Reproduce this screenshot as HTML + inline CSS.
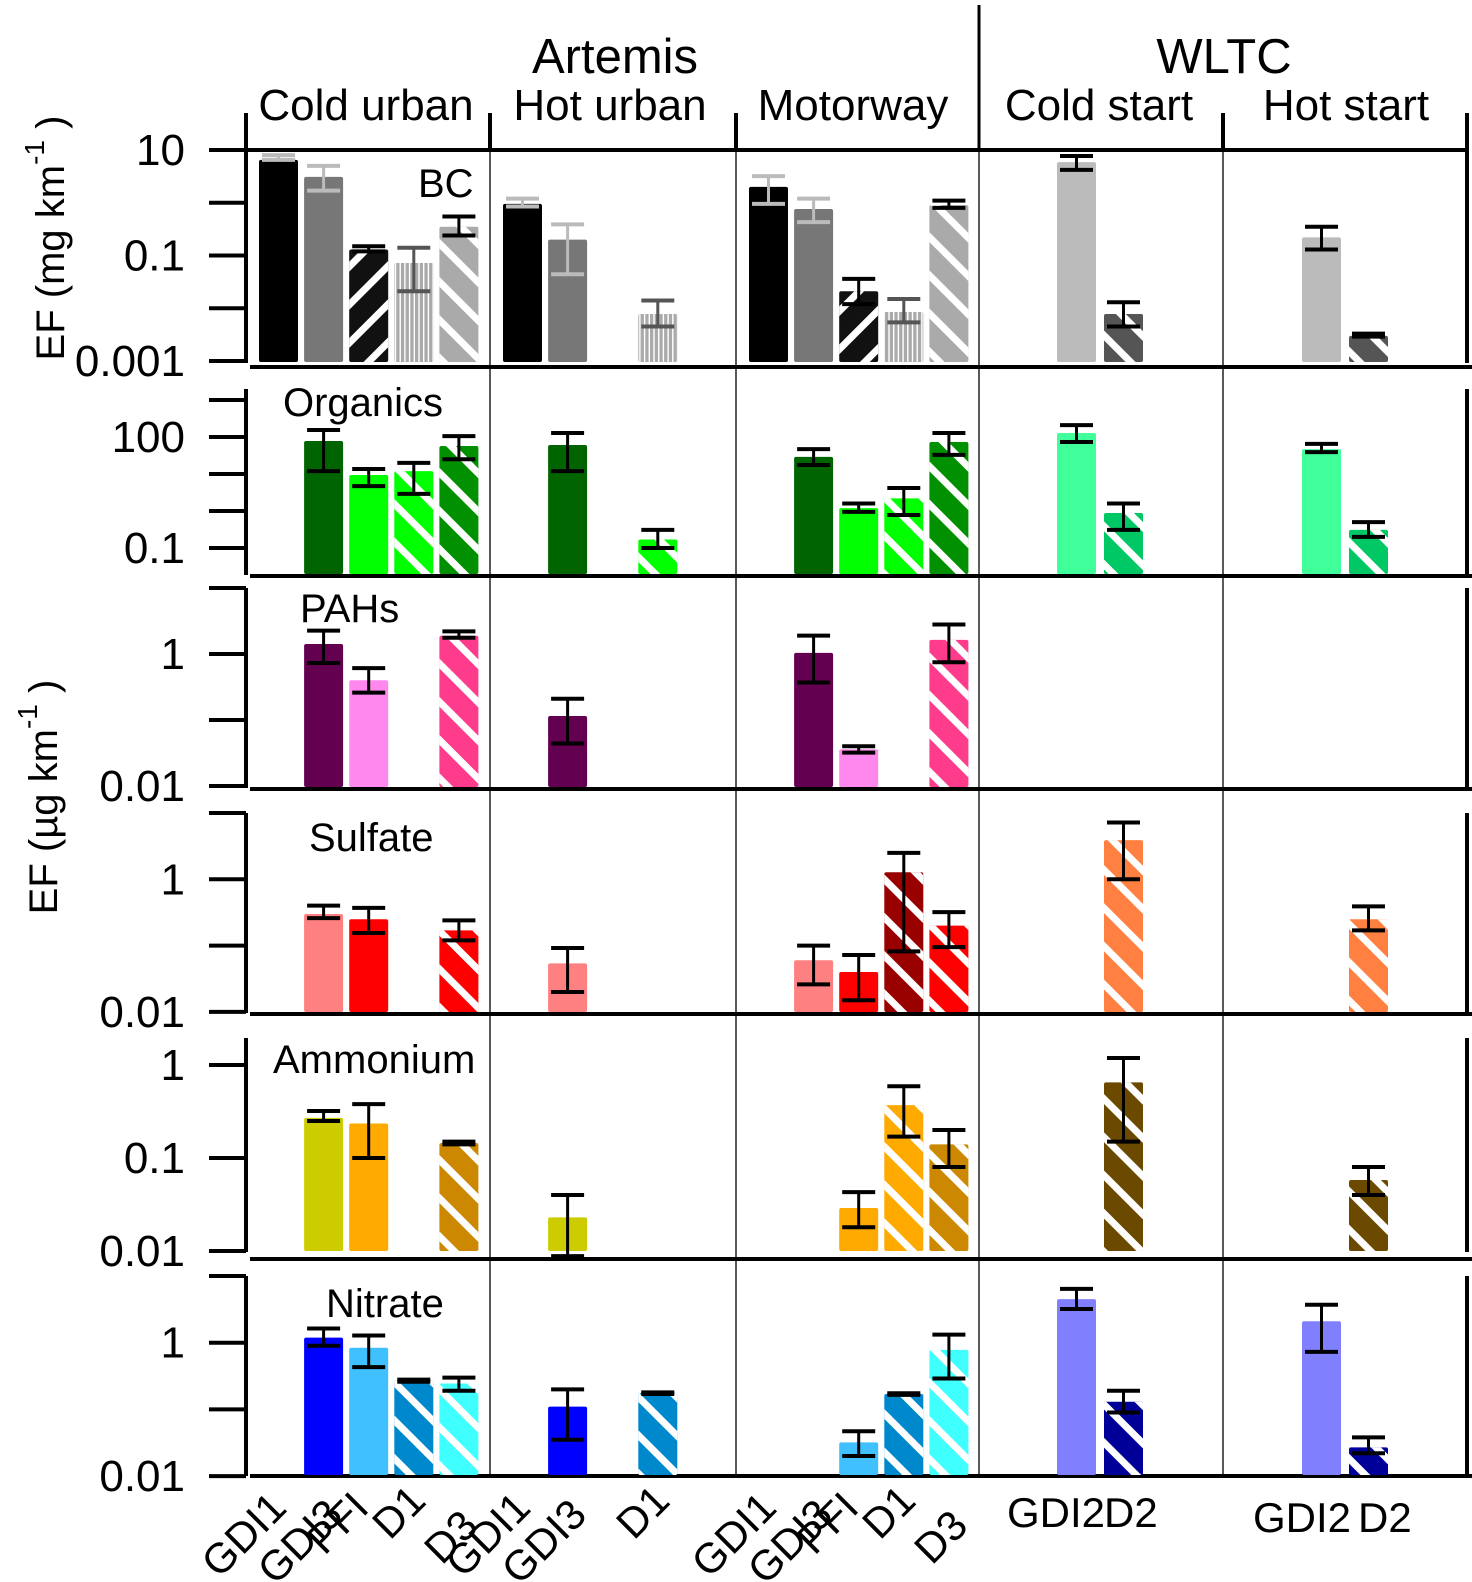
<!DOCTYPE html>
<html><head><meta charset="utf-8"><style>
html,body{margin:0;padding:0;background:#fff;}
svg{display:block;font-family:"Liberation Sans",Arial,sans-serif;}
</style></head><body>
<svg id="chart" width="1472" height="1582" viewBox="0 0 1472 1582" xmlns="http://www.w3.org/2000/svg">
<defs>
<pattern id="pb" patternUnits="userSpaceOnUse" width="27" height="27" patternTransform="rotate(-45)"><rect x="0" y="0" width="7" height="27" fill="#fff"/></pattern>
<pattern id="pf" patternUnits="userSpaceOnUse" width="27" height="27" patternTransform="rotate(45)"><rect x="0" y="0" width="7" height="27" fill="#fff"/></pattern>
<pattern id="pv" patternUnits="userSpaceOnUse" width="4.7" height="10"><rect x="0" y="0" width="1.4" height="10" fill="#fff"/></pattern>
</defs>
<g id="frame"></g>
<g id="bars"></g>
<g id="texts"></g>
</svg>
<script>
// ---- categories ----
const columnNames = ["Cold urban","Hot urban","Motorway","Cold start","Hot start"];
const artemisSlots = ["GDI1","GDI3","PFI","D1","D3"];
const wltcSlots = ["GDI2","D2"];
const panelNames = ["BC","Organics","PAHs","Sulfate","Ammonium","Nitrate"];
// order: CU[GDI1,GDI3,PFI,D1,D3], HU[5], MW[5], CS[GDI2,D2], HS[GDI2,D2]
const bcVal = [6.5,3.1,0.13,0.072,0.35, 0.95,0.2,null,0.0078,null, 2.0,0.76,0.021,0.0085,0.9, 5.9,0.0078, 0.22,0.003];
const bcHi  = [8,5,0.15,0.14,0.55, 1.2,0.39,null,0.014,null, 3.2,1.2,0.036,0.015,1.1, 7.7,0.013, 0.35,0.0033];
const bcLo  = [6.5,1.7,0.12,0.021,0.24, 0.85,0.044,null,0.0045,null, 0.95,0.43,0.012,0.0054,0.8, 4.2,0.0045, 0.13,0.0029];
const orgVal = [null,78,9.4,12,57, null,61,null,0.17,null, null,29,1.2,2.2,73, 128,0.88, 47,0.31];
const orgHi  = [null,155,13.6,20,106, null,128,null,0.31,null, null,47,1.6,4.2,128, 210,1.6, 65,0.5];
const orgLo  = [null,12,4.7,2.9,25, null,12,null,0.1,null, null,17.5,0.95,0.78,33, 73,0.31, 39,0.2];
const pahVal = [null,1.42,0.4,null,1.89, null,0.115,null,null,null, null,1.04,0.036,null,1.64, null,null, null,null];
const pahHi  = [null,2.26,0.61,null,2.2, null,0.21,null,null,null, null,1.9,0.04,null,2.8, null,null, null,null];
const pahLo  = [null,0.73,0.26,null,1.76, null,0.044,null,null,null, null,0.37,0.032,null,0.75, null,null, null,null];
const sulVal = [null,0.3,0.25,null,0.17, null,0.054,null,null,null, null,0.06,0.04,1.28,0.2, null,3.9, null,0.25];
const sulHi  = [null,0.4,0.37,null,0.24, null,0.092,null,null,null, null,0.1,0.072,2.5,0.32, null,7.2, null,0.39];
const sulLo  = [null,0.26,0.155,null,0.12, null,0.02,null,null,null, null,0.026,0.015,0.082,0.095, null,1.0, null,0.17];
const ammVal = [null,0.27,0.235,null,0.145, null,0.023,null,null,null, null,null,0.029,0.37,0.14, null,0.65, null,0.058];
const ammHi  = [null,0.32,0.38,null,0.15, null,0.04,null,null,null, null,null,0.043,0.59,0.2, null,1.19, null,0.08];
const ammLo  = [null,0.25,0.1,null,0.14, null,0.0088,null,null,null, null,null,0.018,0.17,0.08, null,0.15, null,0.04];
const nitVal = [null,1.19,0.84,0.27,0.245, null,0.11,null,0.175,null, null,null,0.032,0.17,0.78, 4.5,0.13, 2.1,0.027];
const nitHi  = [null,1.63,1.28,0.28,0.3, null,0.2,null,0.18,null, null,null,0.047,0.175,1.32, 6.4,0.19, 3.7,0.038];
const nitLo  = [null,0.9,0.43,0.26,0.19, null,0.035,null,0.17,null, null,null,0.02,0.165,0.29, 3.2,0.09, 0.73,0.022];
// tick values / labels
const bcTicks = [10,1,0.1,0.01,0.001], bcTickLabels = ["10","","0.1","","0.001"];
const orgTicks = [1000,100,10,1,0.1], orgTickLabels = ["","100","","","0.1"];
const pahTicks = [10,1,0.1,0.01], pahTickLabels = ["","1","","0.01"];
const sulTicks = [10,1,0.1,0.01], sulTickLabels = ["","1","","0.01"];
const ammTicks = [1,0.1,0.01], ammTickLabels = ["1","0.1","0.01"];
const nitTicks = [10,1,0.1,0.01], nitTickLabels = ["","1","","0.01"];

// ---- styles (not data) ----
const NS="http://www.w3.org/2000/svg";
const colStart=[246,490,736,979,1224];
const RIGHT=1467;
function slotX(i){ if(i<15){const c=Math.floor(i/5),s=i%5;return colStart[c]+32.5+s*45.1;} const c=i<17?3:4, s=(i-15)%2; return colStart[c]+97.5+s*47;}
const fillsA={BC:["#000","#777","#111","#aaa","#aaa"],Organics:["#006400","#006400","#00ff00","#00ff00","#009000"],PAHs:["#640050","#640050","#ff88ee","#ff3c8c","#ff3c8c"],Sulfate:["#ff8080","#ff8080","#ff0000","#990000","#ff0000"],Ammonium:["#cccc00","#cccc00","#ffaa00","#ffaa00","#cc8800"],Nitrate:["#0000ff","#0000ff","#40c0ff","#0088cc","#40ffff"]};
const fillsW={BC:["#bbb","#555"],Organics:["#40ff9a","#00c864"],PAHs:["#ff88ee","#ff3c8c"],Sulfate:["#ff8080","#ff8040"],Ammonium:["#cccc00","#6b4a00"],Nitrate:["#8080ff","#000099"]};
const bcErrCol=["#bbb","#bbb","#000","#555","#000","#bbb","#bbb","#000","#555","#000","#bbb","#bbb","#000","#555","#000","#000","#000","#000","#000"];
const panels=[
 {name:"BC",val:bcVal,hi:bcHi,lo:bcLo,ticks:bcTicks,tl:bcTickLabels,refV:10,refY:150,ppd:52.75,top:150,axTop:113,bot:362,sep:367,lx:418,ly:197},
 {name:"Organics",val:orgVal,hi:orgHi,lo:orgLo,ticks:orgTicks,tl:orgTickLabels,refV:1000,refY:400,ppd:37,top:389,axTop:389,bot:574,sep:576,lx:283,ly:416},
 {name:"PAHs",val:pahVal,hi:pahHi,lo:pahLo,ticks:pahTicks,tl:pahTickLabels,refV:10,refY:588,ppd:66,top:588,axTop:588,bot:787,sep:789,lx:300,ly:622},
 {name:"Sulfate",val:sulVal,hi:sulHi,lo:sulLo,ticks:sulTicks,tl:sulTickLabels,refV:10,refY:813,ppd:66.3,top:813,axTop:813,bot:1012,sep:1014,lx:309,ly:851},
 {name:"Ammonium",val:ammVal,hi:ammHi,lo:ammLo,ticks:ammTicks,tl:ammTickLabels,refV:1,refY:1065,ppd:93,top:1038,axTop:1038,bot:1251,sep:1259,lx:273,ly:1073},
 {name:"Nitrate",val:nitVal,hi:nitHi,lo:nitLo,ticks:nitTicks,tl:nitTickLabels,refV:10,refY:1276,ppd:66.7,top:1276,axTop:1276,bot:1475,sep:1476,lx:326,ly:1317}
];
const frame=document.getElementById('frame'),barsG=document.getElementById('bars'),texts=document.getElementById('texts');
function mk(tag,attrs,parent){const e=document.createElementNS(NS,tag);for(const k in attrs)e.setAttribute(k,attrs[k]);parent.appendChild(e);return e;}
function line(x1,y1,x2,y2,w,parent,col){return mk('line',{x1,y1,x2,y2,stroke:col||'#000','stroke-width':w},parent);}
function yOf(p,v){return p.refY-(Math.log10(v)-Math.log10(p.refV))*p.ppd;}

panels.forEach((p,pi)=>{
  const g=mk('g',{},frame);
  
  
  line(246,p.axTop,246,p.bot+1,4,g);
  p.ticks.forEach((t,ti)=>{
    const y=yOf(p,t);
    const tk=line(209,y,246,y,4,g);
    
    
    if(p.tl[ti]){
      const tx=mk('text',{x:185,y:y+15,'text-anchor':'end','font-size':44,fill:'#000'},texts);
      tx.textContent=p.tl[ti];
      
      
    }
  });
  line(RIGHT,p.top,RIGHT,p.bot+1,4,g);
  line(250,p.sep,1472,p.sep,4,g);
  const lb=mk('text',{x:p.lx,y:p.ly,'font-size':40,fill:'#000'},texts);
  lb.textContent=p.name;
  
  
  // bars
  p.val.forEach((v,i)=>{
    if(v==null)return;
    const cx=slotX(i), x=cx-19.5, w=39, yt=yOf(p,v), h=p.bot-yt;
    let fill, pat=null;
    if(i<15){const s=i%5; fill=fillsA[p.name][s]; if(s>=3)pat='pb'; if(p.name==='BC'&&s===2)pat='pf'; if(p.name==='BC'&&s===3)pat='pv';}
    else {const s=(i-15)%2; fill=fillsW[p.name][s]; if(s===1)pat='pb';}
    const r=mk('rect',{x,y:yt,width:w,height:h,fill,rx:2},barsG);
    
    
    if(pat) mk('rect',{x,y:yt,width:w,height:h,fill:'url(#'+pat+')',rx:2},barsG);
    const hi=p.hi[i],lo=p.lo[i];
    if(hi!=null&&lo!=null){
      const col=p.name==='BC'?bcErrCol[i]:'#000';
      const eg=mk('g',{},barsG);
      
      
      const yh=yOf(p,hi),yl=yOf(p,lo);
      line(cx,yh,cx,yl,3,eg,col);
      line(cx-16.5,yh,cx+16.5,yh,4,eg,col);
      line(cx-16.5,yl,cx+16.5,yl,4,eg,col);
    }
  });
});
// top frame
line(209,150,RIGHT,150,4,frame);
[490,736,1223].forEach(x=>line(x,150,x,1476,1.3,frame));
line(979,150,979,1476,1.3,frame);
line(979,5,979,151,3,frame);
[246,490,736,1223,RIGHT].forEach(x=>line(x,113,x,151,4,frame));

// headers
const hdrs=[["Artemis",615,73,49],["WLTC",1224,73,49],["Cold urban",366,120,44],["Hot urban",610,120,44],["Motorway",853,120,44],["Cold start",1099,120,44],["Hot start",1346,120,44]];
hdrs.forEach(h=>{const t=mk('text',{x:h[1],y:h[2],'text-anchor':'middle','font-size':h[3],fill:'#000'},texts);t.textContent=h[0];
  
  });

// x labels
const lblDx=[10,21,2,14,21], lblY=[1510,1517,1510,1503,1528];
const present=[[0,1,2,3,4],[0,1,3],[0,1,2,3,4]];
present.forEach((slots,c)=>slots.forEach(s=>{
  const cx=slotX(c*5+s), ex=cx+lblDx[s], ey=lblY[s];
  const t=mk('text',{x:0,y:0,'text-anchor':'end','font-size':42,fill:'#000',transform:'translate('+ex+','+ey+') rotate(-45)'},texts);
  t.textContent=artemisSlots[s];
  
  
}));
[[1007,1527,"GDI2"],[1104,1527,"D2"],[1253,1532,"GDI2"],[1358,1532,"D2"]].forEach(a=>{
  const t=mk('text',{x:a[0],y:a[1],'font-size':42,fill:'#000'},texts);t.textContent=a[2];
  
  
});
// y titles
function ytitle(x,y,unit,name){
  const t=mk('text',{'text-anchor':'middle','font-size':40,fill:'#000',transform:'translate('+x+','+y+') rotate(-90)'},texts);
  
  
  const a=mk('tspan',{},t);a.textContent='EF ('+unit+' km';
  const b=mk('tspan',{dy:-20,'font-size':28},t);b.textContent='-1';
  const c=mk('tspan',{dy:20},t);c.textContent=' )';
}
ytitle(64,238,'mg','y-axis-title-mg');
ytitle(57,797,'µg','y-axis-title-ug');
</script>
</body></html>
